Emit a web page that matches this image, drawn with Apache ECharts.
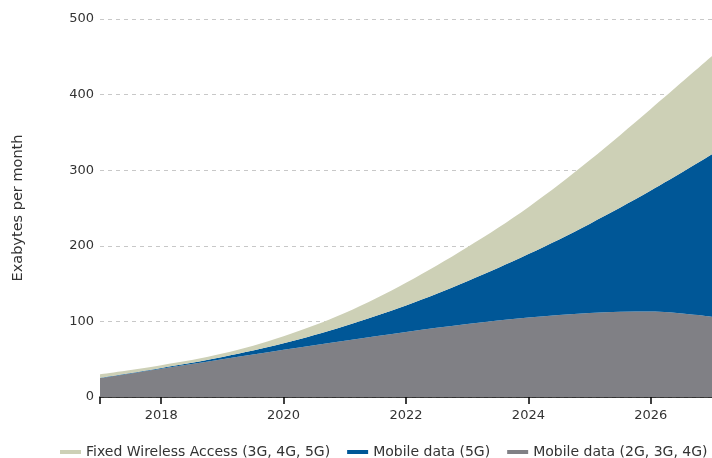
<!DOCTYPE html>
<html>
<head>
<meta charset="utf-8">
<script src="https://cdn.jsdelivr.net/npm/echarts@6/dist/echarts.min.js"></script>
<style>html,body{margin:0;padding:0;background:#fff}#c{width:712px;height:458px}</style>
</head>
<body>
<div id="c"></div>
<script>
const years = ['2017','2018','2019','2020','2021','2022','2023','2024','2025','2026','2027'];
const mobileLegacy = [25, 37.5, 50, 62.5, 74.5, 86, 96.5, 105, 111, 113, 106];
const mobile5G = [0.5, 1, 3, 8.5, 19.5, 35, 56.5, 84, 118, 160, 215];
const fwa = [4.5, 3.5, 4.5, 9.5, 17, 30, 45, 62, 84, 108, 130];
const yTicks = [0, 100, 200, 300, 400, 500];
const names = ['Fixed Wireless Access (3G, 4G, 5G)', 'Mobile data (5G)', 'Mobile data (2G, 3G, 4G)'];

const FONT = 'DejaVu Sans';
const chart = echarts.init(document.getElementById('c'));
const areaSeries = (name, data, color) => ({
  name, type: 'line', stack: 'total', data, smooth: 0.35, symbol: 'none',
  lineStyle: { width: 0, color }, itemStyle: { color },
  areaStyle: { color, opacity: 1 }
});
chart.setOption({
  animation: false,
  textStyle: { fontFamily: FONT },
  grid: { left: 100, right: -4, top: 19, bottom: 61 },
  legend: {
    data: names, left: 55, top: 440, width: 700,
    icon: 'rect', itemWidth: 21, itemHeight: 4, itemGap: 17,
    textStyle: { fontFamily: FONT, fontSize: 14, color: '#333' }
  },
  xAxis: {
    type: 'category', data: years, boundaryGap: false,
    axisLine: { lineStyle: { color: '#000', width: 1.5 } },
    axisTick: { length: 7, lineStyle: { color: '#000', width: 1.5 },
      interval: (i, v) => i === 0 || (+v) % 2 === 0 },
    axisLabel: { interval: (i, v) => (+v) % 2 === 0, color: '#333', fontSize: 13, margin: 12, fontFamily: FONT },
    splitLine: { show: false }
  },
  yAxis: {
    type: 'value', min: yTicks[0], max: yTicks[yTicks.length - 1], interval: 100,
    name: 'Exabytes per month', nameLocation: 'middle', nameGap: 74,
    nameTextStyle: { fontFamily: FONT, fontSize: 14.5, color: '#333' },
    axisLine: { show: false }, axisTick: { show: false },
    axisLabel: { color: '#333', fontSize: 13, margin: 6, fontFamily: FONT },
    splitLine: { lineStyle: { color: '#c8c8c8', type: [4, 4], width: 1 } }
  },
  series: [
    areaSeries(names[2], mobileLegacy, '#808085'),
    areaSeries(names[1], mobile5G, '#005797'),
    areaSeries(names[0], fwa, '#cdd0b6')
  ]
});
</script>
</body>
</html>
